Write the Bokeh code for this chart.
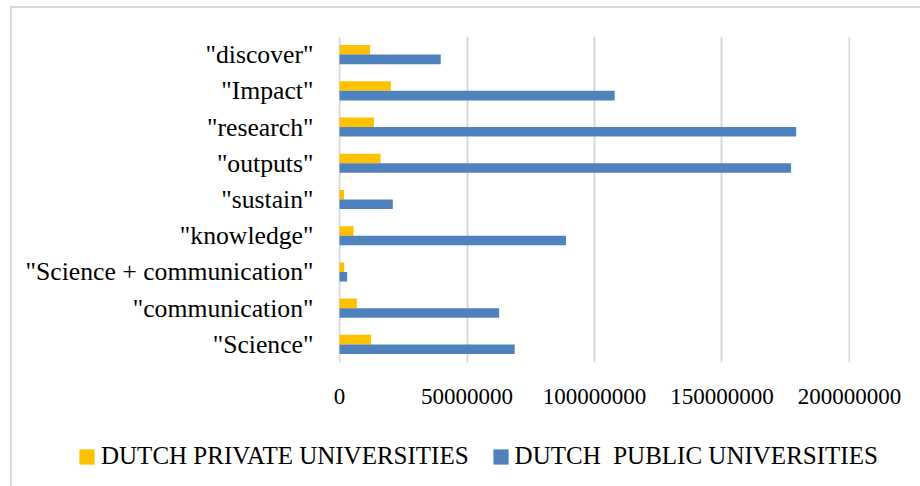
from bokeh.plotting import figure
from bokeh.layouts import column
from bokeh.models import (FactorRange, Range1d, FixedTicker, NumeralTickFormatter,
                          Legend, LegendItem, ColumnDataSource)
from bokeh.transform import dodge
from bokeh.embed import file_html
from bokeh.resources import INLINE

# Search terms, listed bottom to top as they appear on the y axis
terms = ['"Science"', '"communication"', '"Science + communication"', '"knowledge"',
         '"sustain"', '"outputs"', '"research"', '"Impact"', '"discover"']
private_unis = [12.4e6, 6.8e6, 1.8e6, 5.5e6, 1.8e6, 16.1e6, 13.5e6, 20.1e6, 12.0e6]
public_unis = [68.7e6, 62.6e6, 3.0e6, 88.8e6, 20.9e6, 177.1e6, 179.1e6, 107.9e6, 39.7e6]
x_ticks = [0, 50000000, 100000000, 150000000, 200000000]
series_names = ["DUTCH PRIVATE UNIVERSITIES", "DUTCH  PUBLIC UNIVERSITIES"]

SERIF = "Liberation Serif"
YELLOW = "#FFC000"
BLUE = "#4F81BD"
GRID = "#d9d9d9"
BAR_H = 0.264

source = ColumnDataSource(dict(term=terms, priv=private_unis, pub=public_unis))

p = figure(width=908, height=412, output_backend="svg", toolbar_location=None,
           y_range=FactorRange(factors=terms),
           x_range=Range1d(-0.4e6, 200.4e6),
           min_border_left=326, min_border_right=70, min_border_top=28,
           min_border_bottom=58)
p.frame_align = False
p.outline_line_color = None
p.background_fill_color = "white"
p.border_fill_color = "white"

p.hbar(y=dodge("term", BAR_H / 2, range=p.y_range), right="priv", left=0,
       height=BAR_H, source=source, fill_color=YELLOW, line_color=None)
p.hbar(y=dodge("term", -BAR_H / 2, range=p.y_range), right="pub", left=0,
       height=BAR_H, source=source, fill_color=BLUE, line_color=None)

# x axis: plain numbers, no line or ticks
xa = p.xaxis[0]
xa.ticker = FixedTicker(ticks=x_ticks)
xa.formatter = NumeralTickFormatter(format="0")
xa.axis_line_color = None
xa.major_tick_line_color = None
xa.minor_tick_line_color = None
xa.major_tick_out = 0
xa.major_label_standoff = 26
xa.major_label_text_font = SERIF
xa.major_label_text_font_size = "23px"
xa.major_label_text_color = "#000000"

# y axis: category labels only
ya = p.yaxis[0]
ya.axis_line_color = None
ya.major_tick_line_color = None
ya.minor_tick_line_color = None
ya.major_tick_out = 0
ya.major_label_standoff = 25
ya.major_label_text_font = SERIF
ya.major_label_text_font_size = "25.7px"
ya.major_label_text_color = "#000000"

p.xgrid.ticker = FixedTicker(ticks=x_ticks)
p.xgrid.grid_line_color = GRID
p.xgrid.grid_line_width = 2
p.ygrid.grid_line_color = None

# legend strip below the chart; its series renderers sit outside the visible range
leg = figure(width=908, height=66, output_backend="svg", toolbar_location=None,
             x_axis_type=None, y_axis_type=None, min_border=0,
             x_range=Range1d(-2, -1), y_range=FactorRange(factors=terms))
leg.frame_align = False
leg.outline_line_color = None
leg.grid.visible = False
sw_priv = leg.hbar(y="term", right="priv", left=0, height=BAR_H, source=source,
                   fill_color=YELLOW, line_color=None)
sw_pub = leg.hbar(y="term", right="pub", left=0, height=BAR_H, source=source,
                  fill_color=BLUE, line_color=None)
legend = Legend(items=[LegendItem(label=series_names[0], renderers=[sw_priv]),
                       LegendItem(label=series_names[1], renderers=[sw_pub])],
                orientation="horizontal", location=(65, 16),
                glyph_width=19, glyph_height=19, label_standoff=5, spacing=22,
                padding=0, margin=0, border_line_color=None, background_fill_alpha=0,
                label_text_font=SERIF, label_text_font_size="25px",
                label_text_color="#000000")
leg.add_layout(legend, "center")

# light frame along the top and left of the chart box
layout = column(p, leg, spacing=0, margin=(6, 0, 0, 10),
                styles={"border-top": f"2px solid {GRID}",
                        "border-left": f"2px solid {GRID}"})

open("out.html", "w").write(file_html(layout, INLINE))
